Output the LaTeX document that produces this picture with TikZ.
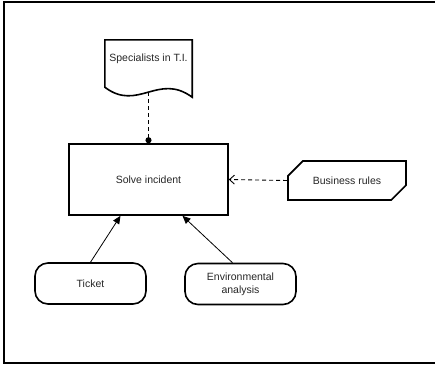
\documentclass[tikz,border=0pt]{standalone}
\usepackage{fontspec}
\setmainfont{Liberation Sans}
\usetikzlibrary{calc, positioning}
\usetikzlibrary{arrows.meta}
\usetikzlibrary{shapes.misc}

\begin{document}
\begin{tikzpicture}[x=1pt,y=-1pt,
  box/.style={draw, line width=1.6pt, font=\fontsize{10.5}{13}\selectfont, text=black!85},
  rounded box/.style={box, rounded corners=13pt, minimum width=111pt, minimum height=41pt, align=center},
  flow/.style={line width=0.8pt, -{Triangle[length=8pt,width=7pt]}},
  dep/.style={line width=1.6pt, dash pattern=on 4pt off 3pt, -{Circle[length=6pt]}},
  ctrl/.style={line width=0.9pt, dash pattern=on 4pt off 3pt, -{Straight Barb[length=5pt,width=9pt]}}]
\useasboundingbox (0,0) rectangle (435,365);
\draw[line width=2pt] (435,2) -- (4,2) -- (4,363) -- (435,363);
\node[box, minimum width=159pt, minimum height=71pt] (solve) at (148.5,179.5) {Solve incident};
\node[font=\fontsize{10.5}{13}\selectfont, text=black!85, minimum width=87pt, minimum height=37pt, inner sep=0pt] (spec) at (148.5,58.5) {Specialists in T.I.};
\draw[line width=1.6pt] ([yshift=-10pt]spec.south west) -- (spec.north west) -- (spec.north east) -- ([yshift=-20pt]spec.south east)
  .. controls +(-34,-25) and +(33,25) .. ([yshift=-10pt]spec.south west) -- cycle;
\coordinate (specend) at ([yshift=-15pt]spec.south);
\node[box, chamfered rectangle, chamfered rectangle corners={north west, south east}, chamfered rectangle xsep=11pt, chamfered rectangle ysep=11pt, minimum width=118pt, minimum height=39pt, inner sep=0pt] (rules) at (347,180.5) {Business rules};
\node[rounded box] (ticket) at (90.5,283.5) {Ticket};
\node[rounded box] (env) at (240.5,284) {Environmental\\analysis};
\draw[dep] (specend) -- (solve.north);
\draw[ctrl] (rules.west) -- (solve.east);
\draw[flow] (ticket.north) -- ([xshift=-28pt]solve.south);
\draw[flow] ([xshift=-8pt]env.north) -- ([xshift=34pt]solve.south);
\end{tikzpicture}
\end{document}
